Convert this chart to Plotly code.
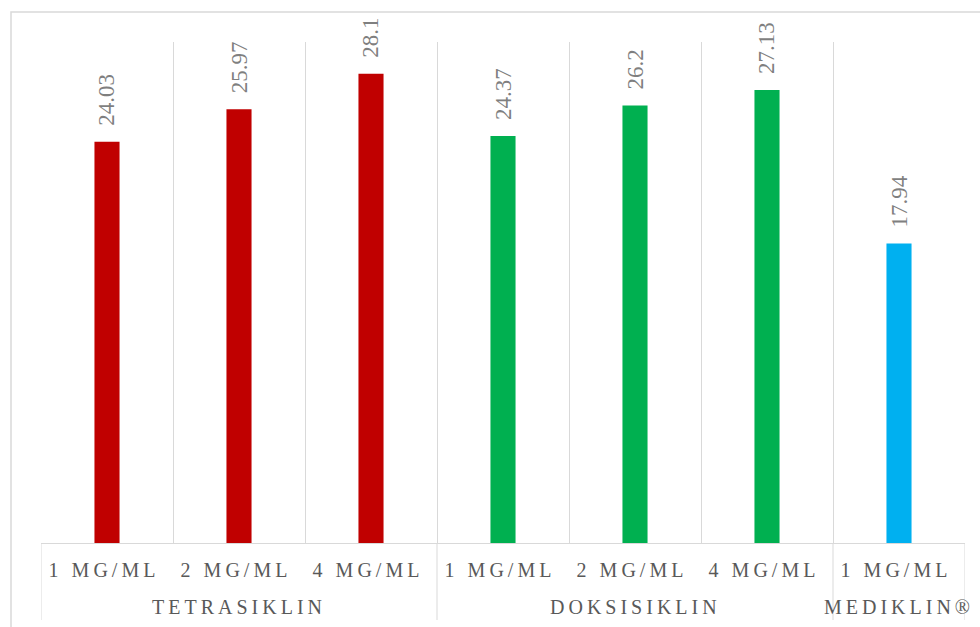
import plotly.graph_objects as go

# Zone of inhibition (mm) per antibiotic and concentration
groups = ["TETRASIKLIN", "TETRASIKLIN", "TETRASIKLIN",
          "DOKSISIKLIN", "DOKSISIKLIN", "DOKSISIKLIN",
          "MEDIKLIN®"]
doses = ["1 MG/ML", "2 MG/ML", "4 MG/ML",
         "1 MG/ML", "2 MG/ML", "4 MG/ML",
         "1 MG/ML"]
values = [24.03, 25.97, 28.1, 24.37, 26.2, 27.13, 17.94]
colors = ["#C00000", "#C00000", "#C00000",
          "#00B050", "#00B050", "#00B050",
          "#00B0F0"]

W, H = 980, 627
ML, MR, MT, MB = 41, 15, 42, 84
pw = W - ML - MR
ph = H - MT - MB
grid = "#D9D9D9"
serif = "Liberation Serif"

# unique category key per bar (group + dose)
keys = [f"{g} | {d}" for g, d in zip(groups, doses)]

fig = go.Figure()
fig.add_trace(go.Bar(
    x=keys,
    y=values,
    marker=dict(color=colors, line=dict(width=0)),
    width=0.19,
    hovertext=[f"{g} {d}" for g, d in zip(groups, doses)],
    hoverinfo="text+y",
))

# Rotated value labels above each bar
for k, v in zip(keys, values):
    fig.add_annotation(
        x=k, y=v, text=f"{v:g}", showarrow=False,
        textangle=-90, yanchor="bottom", xanchor="center", yshift=14,
        font=dict(family=serif, size=23, color="#7F7F7F"),
    )

# Group spans: label centred under its bars, dividers at the group edges
spans = []
for i, g in enumerate(groups):
    if spans and spans[-1][0] == g:
        spans[-1][2] = i
    else:
        spans.append([g, i, i])

div_bottom = -(620 - (H - MB)) / ph
group_y = -(607 - (H - MB)) / ph
edges = set()
for g, i0, i1 in spans:
    fig.add_annotation(
        x=(i0 + i1) / 2, xref="x", y=group_y, yref="paper",
        text=g, showarrow=False, xanchor="center", yanchor="middle",
        font=dict(family=serif, size=20, color="#595959"),
    )
    edges.update([i0 - 0.5, i1 + 0.5])
for e in sorted(edges):
    fig.add_shape(
        type="line", xref="x", yref="paper", x0=e, x1=e, y0=0, y1=div_bottom,
        line=dict(color=grid, width=1),
    )

# Light frame around the chart area
fig.add_shape(
    type="rect", xref="paper", yref="paper",
    x0=(11 - ML) / pw, x1=(W + 10 - ML) / pw,
    y0=-(H + 10 - MT - ph) / ph, y1=(H - MB - 12) / ph,
    line=dict(color=grid, width=1.5), fillcolor="rgba(0,0,0,0)", layer="below",
)

fig.update_layout(
    width=W, height=H,
    margin=dict(l=ML, r=MR, t=MT, b=MB),
    paper_bgcolor="white", plot_bgcolor="white",
    showlegend=False,
    xaxis=dict(
        type="category",
        tickmode="array", tickvals=keys, ticktext=doses,
        tickson="boundaries",
        showgrid=True, gridcolor=grid, gridwidth=1,
        showline=True, linecolor=grid, linewidth=1,
        ticks="", ticklabelstandoff=9, ticklabelshift=-3,
        tickfont=dict(family=serif, size=20, color="#595959"),
        range=[-0.5, len(keys) - 0.5],
    ),
    yaxis=dict(
        range=[0, 30], visible=False, showgrid=False, zeroline=False,
    ),
)

# expanded character spacing for the category text
letter_spacing = (
    "document.querySelectorAll('.xtick text').forEach(function(t){"
    "t.style.letterSpacing='4px';});"
    "document.querySelectorAll('.annotation-text').forEach(function(t){"
    "if(!/^[0-9.]+$/.test(t.textContent)){t.style.letterSpacing='4px';}});"
)
fig.write_html("out.html", post_script=letter_spacing)
